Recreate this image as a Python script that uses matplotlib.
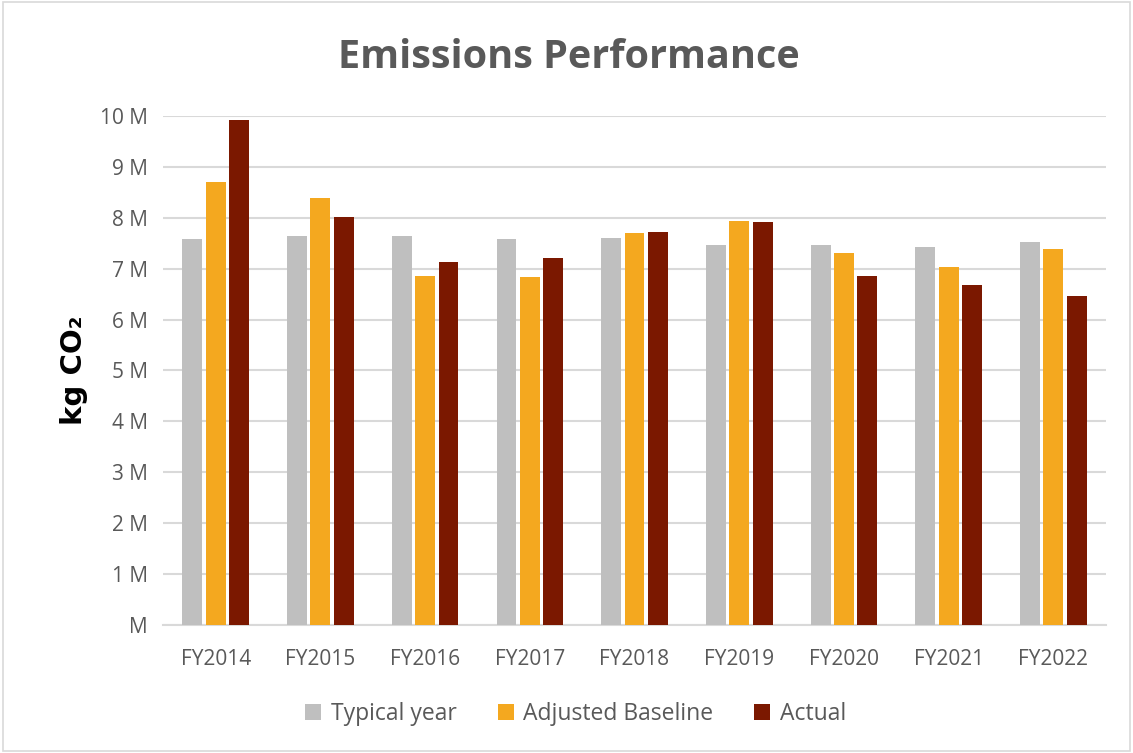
import matplotlib
matplotlib.use("Agg")
import matplotlib.pyplot as plt
import numpy as np
from matplotlib.patches import Rectangle

categories = ["FY2014", "FY2015", "FY2016", "FY2017", "FY2018", "FY2019", "FY2020", "FY2021", "FY2022"]
typical_year = [7.58, 7.64, 7.64, 7.58, 7.60, 7.47, 7.46, 7.42, 7.52]
adjusted_baseline = [8.70, 8.38, 6.86, 6.84, 7.71, 7.93, 7.31, 7.03, 7.38]
actual = [9.92, 8.01, 7.14, 7.21, 7.72, 7.92, 6.86, 6.68, 6.46]
series_names = ["Typical year", "Adjusted Baseline", "Actual"]
colors = ["#BFBFBF", "#F4A81F", "#7B1800"]
yticks = list(range(0, 11))
ytick_labels = ["M"] + [f"{v} M" for v in range(1, 11)]

plt.rcParams['font.family'] = ['Open Sans', 'DejaVu Sans']
fig = plt.figure(figsize=(11.33, 7.53), dpi=100)
ax = fig.add_axes([0.1442, 0.17, 0.8317, 0.676])

x = np.arange(len(categories))
w = 0.19
step = 0.223
for i, (vals, name, c) in enumerate(zip([typical_year, adjusted_baseline, actual], series_names, colors)):
    ax.bar(x + (i - 1) * step, vals, width=w, color=c, label=name, zorder=3)

ax.set_xlim(-0.5, len(categories) - 0.5)
ax.set_ylim(0, 10)
ax.set_yticks(yticks)
ax.set_yticklabels(ytick_labels)
ax.set_xticks(x)
ax.set_xticklabels(categories)
ax.tick_params(axis='both', length=0, labelsize=15, colors="#595959")
ax.tick_params(axis='x', pad=17)
ax.tick_params(axis='y', pad=11)
ax.grid(axis='y', color="#D9D9D9", linewidth=1.5, zorder=0)
ax.set_axisbelow(True)
for s in ["top", "right", "left"]:
    ax.spines[s].set_visible(False)
ax.spines["bottom"].set_color("#D9D9D9")
ax.spines["bottom"].set_linewidth(1.5)

ax.set_ylabel("kg CO\u2082", fontsize=21, fontweight="bold", color="black", labelpad=9,
              family=['DejaVu Sans'])

fig.text(0.502, 0.924, "Emissions Performance", ha="center", va="center",
         fontsize=28.5, fontweight="bold", color="#595959")

leg = fig.legend(loc="center", bbox_to_anchor=(0.508, 0.052), ncol=3, frameon=False,
                 fontsize=16.5, handlelength=0.7, handleheight=0.7, handletextpad=0.4,
                 columnspacing=1.8, labelcolor="#595959")

fig.patches.append(Rectangle((0.003, 0.003), 0.994, 0.994, transform=fig.transFigure,
                             fill=False, edgecolor="#D9D9D9", linewidth=1.2))

fig.savefig("out.png", dpi=100, facecolor="white")
